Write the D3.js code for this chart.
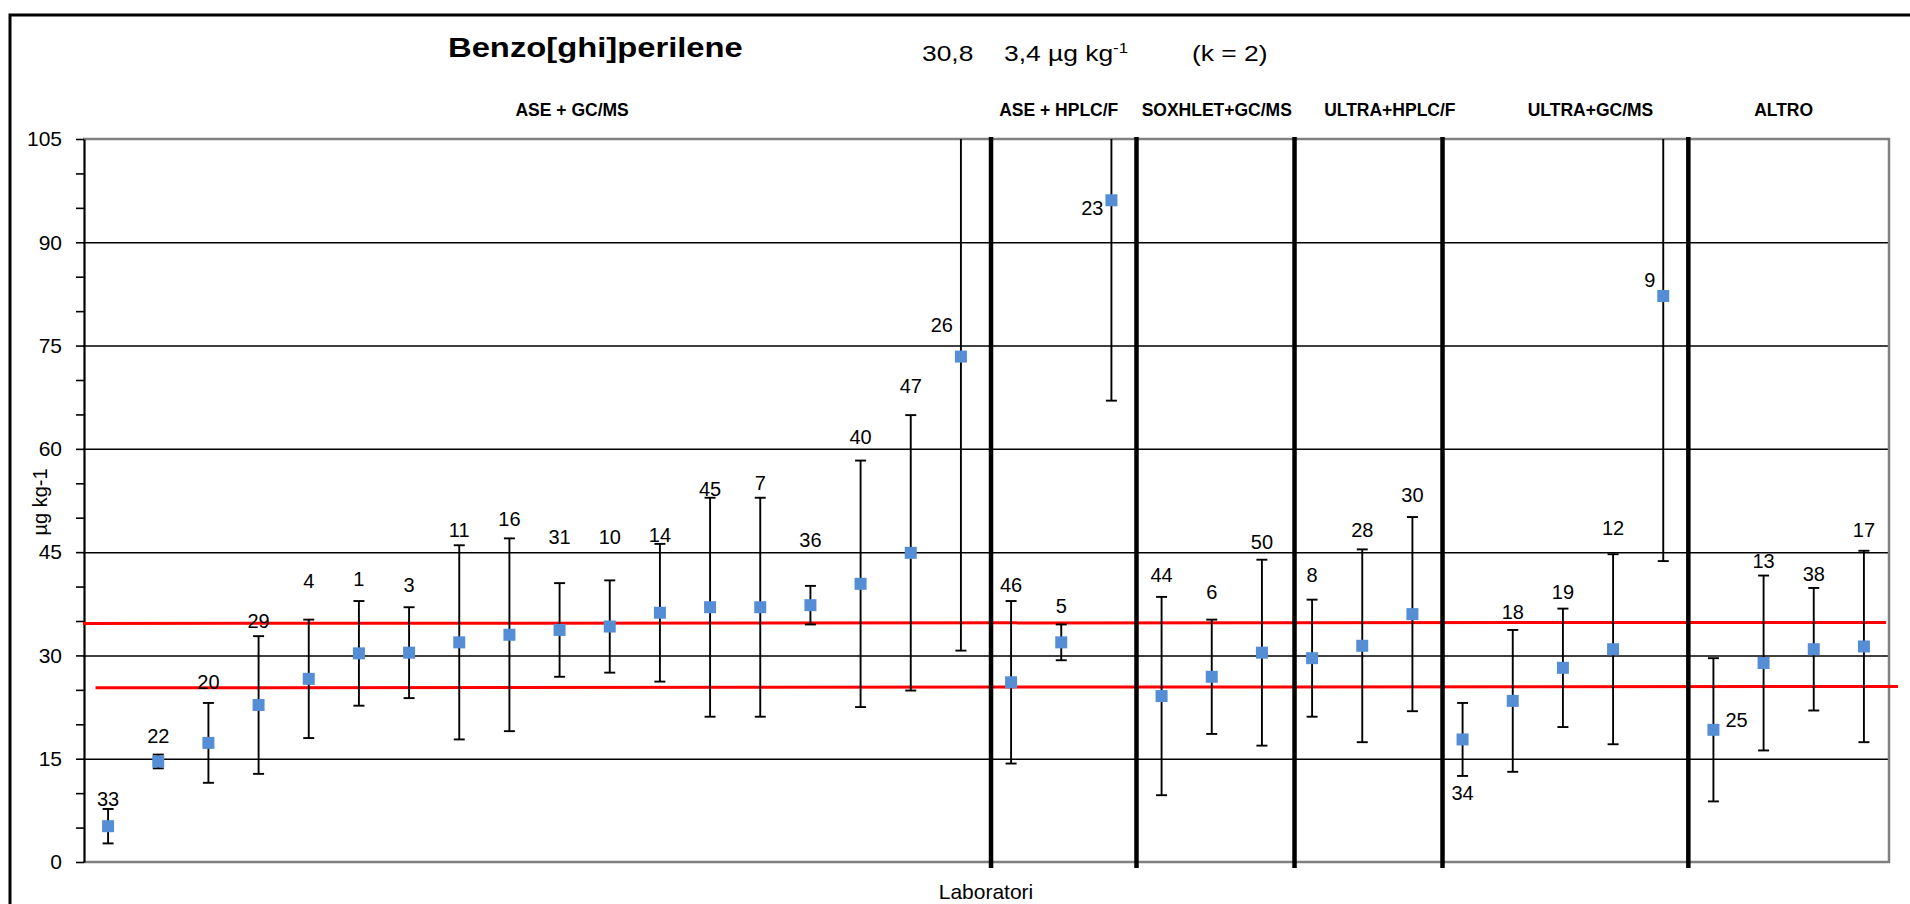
<!DOCTYPE html>
<meta charset="utf-8">

<!-- Load d3.js -->
<script src="https://d3js.org/d3.v7.min.js"></script>

<style>
  body { margin: 0; background: #fff; }
  svg text { font-family: "Liberation Sans", Arial, sans-serif; fill: #000; }
  .grid line { stroke: #000; stroke-width: 1.5px; }
  .grid path { stroke-width: 0; }
</style>

<div id="chart"></div>

<script>

    // laboratory codes, in plotting order
    var labs = ["33","22","20","29","4","1","3","11","16","31","10","14","45","7","36","40","47","26",
                "46","5","23",
                "44","6","50",
                "8","28","30",
                "34","18","19","12","9",
                "25","13","38","17"];

    // measured value for each lab (µg kg-1)
    var values = [5.2,14.6,17.3,22.8,26.6,30.3,30.4,31.9,33.0,33.7,34.2,36.2,37.0,37.0,37.3,40.4,44.9,73.4,
                  26.1,31.9,96.1,
                  24.1,26.9,30.4,
                  29.6,31.4,36.0,
                  17.8,23.4,28.2,30.9,82.2,
                  19.2,28.9,30.9,31.3];

    // error bar half width (expanded uncertainty)
    var uncert = [2.5,1.0,5.8,10.0,8.6,7.6,6.6,14.1,14.0,6.8,6.7,10.0,15.9,15.9,2.8,17.9,20.0,42.7,
                  11.8,2.6,29.1,
                  14.4,8.3,13.5,
                  8.5,14.0,14.1,
                  5.3,10.3,8.6,13.8,38.5,
                  10.4,12.7,8.9,13.9];

    // where each lab number sits (value units) and on which side of the point
    var labelAt = [9.2,18.4,26.1,35.1,40.8,41.1,40.2,48.3,49.9,47.3,47.3,47.5,54.2,55.0,46.8,61.8,69.1,78.0,
                   40.2,37.2,95.0,
                   41.7,39.2,46.5,
                   41.7,48.3,53.3,
                   10.1,36.4,39.2,48.5,84.6,
                   20.7,43.7,41.8,48.3];
    var labelSide = ["c","c","c","c","c","c","c","c","c","c","c","c","c","c","c","c","c","l",
                     "c","c","l",
                     "c","c","c",
                     "c","c","c",
                     "c","c","c","c","l",
                     "r","c","c","c"];

    // method groups
    var groups = ["ASE + GC/MS","ASE + HPLC/F","SOXHLET+GC/MS","ULTRA+HPLC/F","ULTRA+GC/MS","ALTRO"];
    var groupLabelAt = [9.75, 19.45, 22.6, 26.05, 30.05, 33.9];   // in lab slots
    var dividers = [18.1, 21.0, 24.15, 27.1, 32.0];                // in lab slots

    // red reference lines (start / end value)
    var refStart = [34.65, 25.3];
    var refEnd = [34.8, 25.5];

    var yTicks = d3.range(0, 106, 5);
    var yLabels = [0, 15, 30, 45, 60, 75, 90, 105];

    // set the dimensions of the graph
    var W = 1910, H = 904;
    var plot = {left: 83, right: 1889, top: 139, bottom: 862};

    var svg = d3.select("#chart")
      .append("svg")
        .attr("width", W)
        .attr("height", H);

    svg.append("rect")
      .attr("width", W).attr("height", H)
      .attr("fill", "#fff");

    // outer frame (only top and left edges are inside the picture)
    svg.append("path")
      .attr("d", "M10," + H + "V15H" + W)
      .attr("fill", "none")
      .attr("stroke", "#000")
      .attr("stroke-width", 3);

    var x = d3.scaleLinear()
      .domain([0, labs.length])
      .range([plot.left, plot.right]);

    var y = d3.scaleLinear()
      .domain([0, 105])
      .range([plot.bottom, plot.top]);

    // gridlines
    svg.append("g")
      .attr("class", "grid")
      .attr("transform", "translate(" + plot.left + ",0)")
      .call(d3.axisLeft(y)
          .tickValues([15, 30, 45, 60, 75, 90])
          .tickSize(-(plot.right - plot.left))
          .tickFormat("")
      );

    // plot frame: top, right, bottom in grey
    svg.append("path")
      .attr("d", "M" + plot.left + "," + plot.top + "H" + plot.right + "V" + plot.bottom + "H" + plot.left)
      .attr("fill", "none")
      .attr("stroke", "#808080")
      .attr("stroke-width", 2.5);

    // Y axis
    var yAxis = svg.append("g")
      .attr("transform", "translate(" + (plot.left + 1) + ",0)")
      .call(d3.axisLeft(y)
          .tickValues(yTicks)
          .tickSize(8)
          .tickSizeOuter(0)
          .tickPadding(14)
          .tickFormat(function(d) { return yLabels.indexOf(d) >= 0 ? d : ""; })
      );
    yAxis.select(".domain").attr("stroke", "#000").attr("stroke-width", 2.2);
    yAxis.selectAll(".tick line").attr("stroke", "#000").attr("stroke-width", 1.6);
    yAxis.selectAll(".tick text")
      .style("font-size", "21px")
      .style("font-family", "Liberation Sans, Arial, sans-serif")
      .attr("fill", "#000");

    // y axis label
    svg.append("text")
      .attr("transform", "translate(47,502)rotate(-90)")
      .style("text-anchor", "middle")
      .style("font-size", "20px")
      .text("µg kg-1");

    // x axis label
    svg.append("text")
      .attr("x", 986)
      .attr("y", 899)
      .style("text-anchor", "middle")
      .style("font-size", "21px")
      .text("Laboratori");

    // title and assigned value
    svg.append("text")
      .attr("transform", "translate(448,57)scale(1.17,1)")
      .style("font-size", "28px")
      .style("font-weight", "bold")
      .text("Benzo[ghi]perilene");

    svg.append("text")
      .attr("transform", "translate(922,61)scale(1.2,1)")
      .style("font-size", "22px")
      .text("30,8");
    var unit = svg.append("text")
      .attr("transform", "translate(1004,61)scale(1.2,1)")
      .style("font-size", "22px");
    unit.append("tspan").text("3,4 µg kg");
    unit.append("tspan").attr("dy", -8).style("font-size", "14px").text("-1");
    svg.append("text")
      .attr("transform", "translate(1192,61)scale(1.2,1)")
      .style("font-size", "22px")
      .text("(k = 2)");

    // method group labels
    svg.selectAll("grpLabel")
      .data(groups)
      .enter()
      .append("text")
        .attr("x", function(d, i) { return x(groupLabelAt[i]); })
        .attr("y", 116)
        .style("text-anchor", "middle")
        .style("font-size", "17.5px")
        .style("font-weight", "bold")
        .text(function(d) { return d; });

    // red reference lines
    svg.selectAll("refLine")
      .data(refStart)
      .enter()
      .append("line")
        .attr("x1", function(d, i) { return i == 0 ? x(0) : x(0.25); })
        .attr("x2", function(d, i) { return i == 0 ? x(labs.length) - 3 : x(labs.length) + 9; })
        .attr("y1", function(d) { return y(d); })
        .attr("y2", function(d, i) { return y(refEnd[i]); })
        .attr("stroke", "#ff0000")
        .attr("stroke-width", 3);

    // method dividers
    svg.selectAll("divider")
      .data(dividers)
      .enter()
      .append("line")
        .attr("x1", function(d) { return x(d); })
        .attr("x2", function(d) { return x(d); })
        .attr("y1", plot.top - 2)
        .attr("y2", plot.bottom + 6)
        .attr("stroke", "#000")
        .attr("stroke-width", 4.5);

    // error bars: stem, low cap, high cap (no cap when clipped at the top)
    var ymax = y.domain()[1];
    var bars = svg.selectAll("errBar")
      .data(values)
      .enter()
      .append("g");
    bars.append("line")
      .attr("x1", function(d, i) { return x(i + 0.5); })
      .attr("x2", function(d, i) { return x(i + 0.5); })
      .attr("y1", function(d, i) { return y(Math.min(d + uncert[i], ymax)); })
      .attr("y2", function(d, i) { return y(d - uncert[i]); })
      .attr("stroke", "#000")
      .attr("stroke-width", 1.9);
    bars.append("line")
      .attr("x1", function(d, i) { return x(i + 0.5) - 5.5; })
      .attr("x2", function(d, i) { return x(i + 0.5) + 5.5; })
      .attr("y1", function(d, i) { return y(d - uncert[i]); })
      .attr("y2", function(d, i) { return y(d - uncert[i]); })
      .attr("stroke", "#000")
      .attr("stroke-width", 1.9);
    bars.append("line")
      .attr("x1", function(d, i) { return x(i + 0.5) - 5.5; })
      .attr("x2", function(d, i) { return x(i + 0.5) + 5.5; })
      .attr("y1", function(d, i) { return y(d + uncert[i]); })
      .attr("y2", function(d, i) { return y(d + uncert[i]); })
      .attr("stroke", "#000")
      .attr("stroke-width", 1.9)
      .attr("display", function(d, i) { return d + uncert[i] > ymax ? "none" : null; });

    // points
    svg.selectAll("pt")
      .data(values)
      .enter()
      .append("rect")
        .attr("x", function(d, i) { return x(i + 0.5) - 6; })
        .attr("y", function(d) { return y(d) - 6; })
        .attr("width", 12)
        .attr("height", 12)
        .attr("fill", "#558ED5");

    // lab numbers
    svg.selectAll("labLabel")
      .data(labs)
      .enter()
      .append("text")
        .attr("x", function(d, i) {
            if (labelSide[i] == "l") { return x(i + 0.5) - 8; }
            else if (labelSide[i] == "r") { return x(i + 0.5) + 12; }
            else { return x(i + 0.5); }
        })
        .attr("y", function(d, i) { return y(labelAt[i]); })
        .attr("dy", "0.36em")
        .style("text-anchor", function(d, i) {
            if (labelSide[i] == "l") { return "end"; }
            else if (labelSide[i] == "r") { return "start"; }
            else { return "middle"; }
        })
        .style("font-size", "20px")
        .text(function(d) { return d; });

</script>
